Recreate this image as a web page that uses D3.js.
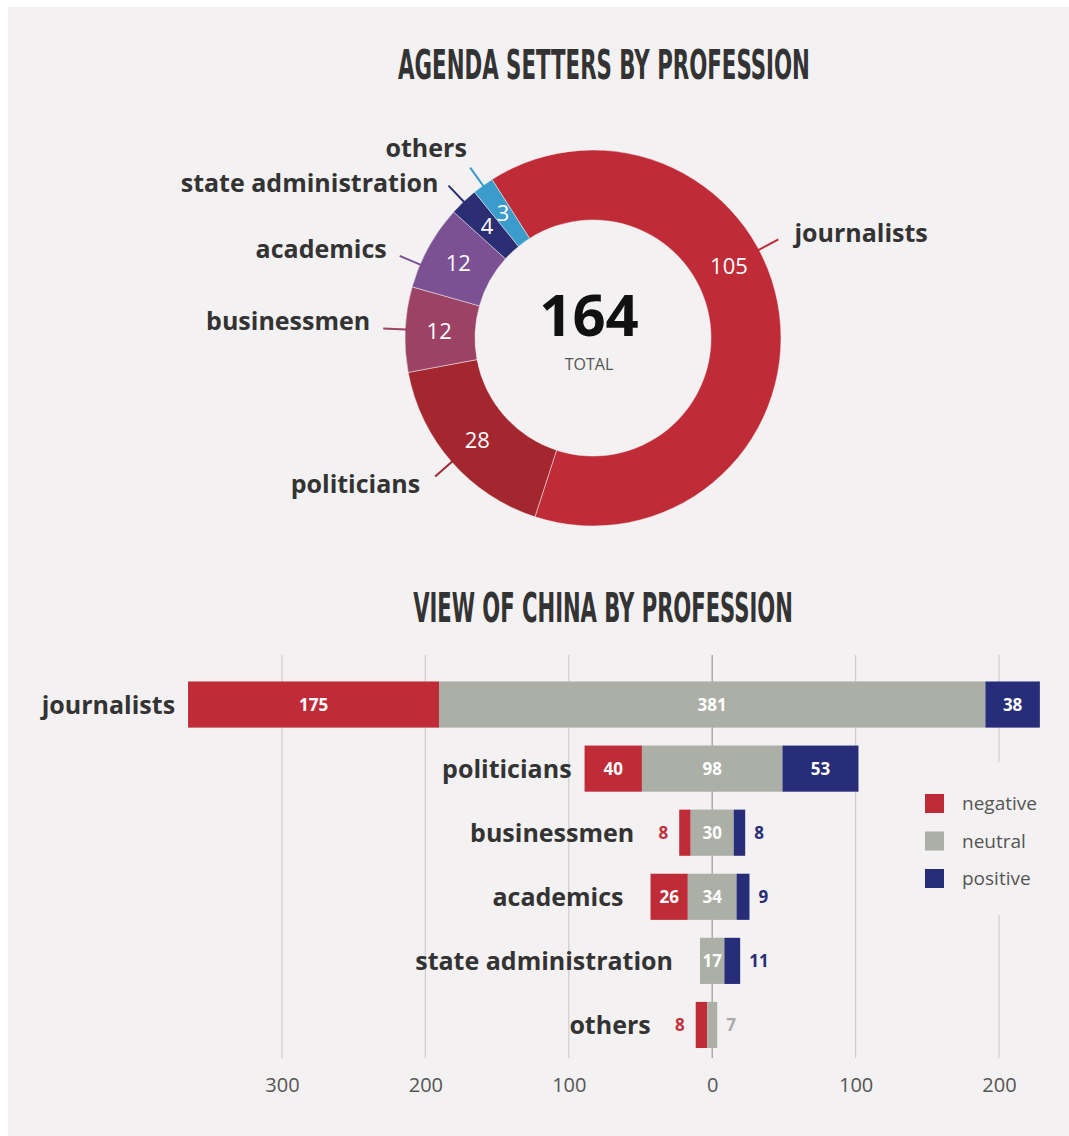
<!DOCTYPE html>
<html>
<head>
<meta charset="utf-8">
<script src="https://cdn.jsdelivr.net/npm/d3@7"></script>
<style>
  html, body { margin: 0; padding: 0; background: #ffffff; }
  svg { display: block; }
  text { font-family: "Open Sans", "Noto Sans", sans-serif; }
</style>
</head>
<body>
<svg id="chart" width="1069" height="1136"></svg>
<script>
// ---- data ----
const professions = ["journalists", "politicians", "businessmen", "academics", "state administration", "others"];
const agendaSetters = [105, 28, 12, 12, 4, 3];
const sliceColors = ["#c02b38", "#a4262f", "#9c4265", "#7c5194", "#2b2e73", "#3b9ccb"];

const sentiments = ["negative", "neutral", "positive"];
const negativeViews = [175, 40, 8, 26, 0, 8];
const neutralViews = [381, 98, 30, 34, 17, 7];
const positiveViews = [38, 53, 8, 9, 11, 0];
const sentimentColors = ["#c02b38", "#abafa6", "#272d78"];
const outsideLabelColors = ["#c0323d", "#a9aca6", "#272d78"];
const axisTicks = [-300, -200, -100, 0, 100, 200];

const BG = "#f3f1f1";
const INK = "#333333";

const svg = d3.select("#chart");
svg.append("rect").attr("x", 8).attr("y", 7).attr("width", 1061).attr("height", 1129).attr("fill", BG);

// ---- titles: condensed headline, squeezed horizontally to a set width ----
function title(text, cx, baseline, width) {
  const t = svg.append("text")
    .attr("x", 0).attr("y", 0)
    .attr("text-anchor", "middle")
    .style("font-family", "'Liberation Sans Narrow', 'DejaVu Sans Condensed', sans-serif")
    .style("font-weight", "bold").style("font-size", "40px")
    .attr("fill", INK).text(text);
  const natural = t.node().getComputedTextLength() || width;
  t.attr("transform", `translate(${cx},${baseline}) scale(${width / natural},1)`);
}
title("AGENDA SETTERS BY PROFESSION", 604, 79, 412);
title("VIEW OF CHINA BY PROFESSION", 603, 622, 380);

// ---- donut ----
const cx = 593, cy = 338, R = 188, r = 118;
const rad = deg => deg * Math.PI / 180;
const start = rad(-32.5);
const slices = professions.map((name, i) => ({ name, value: agendaSetters[i], color: sliceColors[i] }));
const total = d3.sum(agendaSetters);

const pie = d3.pie().sort(null).value(d => d.value).startAngle(start).endAngle(start + 2 * Math.PI);
const arcs = pie(slices);
const arc = d3.arc().innerRadius(r).outerRadius(R);

const donut = svg.append("g").attr("transform", `translate(${cx},${cy})`);
donut.selectAll("path.slice").data(arcs).join("path")
  .attr("class", "slice")
  .attr("d", arc)
  .attr("fill", d => d.data.color)
  .attr("stroke", "rgba(243,241,241,0.5)").attr("stroke-width", 1);

const polar = (a, rr) => [Math.sin(a) * rr, -Math.cos(a) * rr];
const mid = d => (d.startAngle + d.endAngle) / 2;
// the large slice carries its number and leader higher up
const valueAngle = d => d.index === 0 ? rad(62) : mid(d);

// leader and name placement around the ring
const callouts = {
  "journalists":          { angle: 62,  dx: 16,  dy: -6,  anchor: "start" },
  "politicians":          { angle: null, dx: -15, dy: 7,   anchor: "end" },
  "businessmen":          { angle: null, dx: -13, dy: -7,  anchor: "end" },
  "academics":            { angle: 293, dx: -13, dy: -7,  anchor: "end" },
  "state administration": { angle: null, dx: -10, dy: -3,  anchor: "end" },
  "others":               { angle: null, dx: -44, dy: -20, anchor: "middle" }
};
const leaderAngle = d => callouts[d.data.name].angle != null ? rad(callouts[d.data.name].angle) : mid(d);

donut.selectAll("text.val").data(arcs).join("text")
  .attr("class", "val")
  .attr("x", d => polar(valueAngle(d), 154)[0])
  .attr("y", d => polar(valueAngle(d), 154)[1])
  .attr("text-anchor", "middle").attr("dy", "0.36em")
  .attr("fill", "#ffffff").style("font-size", "22px")
  .text(d => d.value);

donut.selectAll("line.leader").data(arcs).join("line")
  .attr("class", "leader")
  .attr("x1", d => polar(leaderAngle(d), R - 1)[0])
  .attr("y1", d => polar(leaderAngle(d), R - 1)[1])
  .attr("x2", d => polar(leaderAngle(d), R + 22)[0])
  .attr("y2", d => polar(leaderAngle(d), R + 22)[1])
  .attr("stroke", d => d.data.color).attr("stroke-width", 2);

donut.selectAll("text.name").data(arcs).join("text")
  .attr("class", "name")
  .each(function (d) {
    const [ex, ey] = polar(leaderAngle(d), R + 22);
    const c = callouts[d.data.name];
    d3.select(this).attr("x", ex + c.dx).attr("y", ey + c.dy).attr("text-anchor", c.anchor);
  })
  .attr("dy", "0.36em")
  .attr("fill", INK).style("font-size", "25px").style("font-weight", "bold")
  .text(d => d.data.name);

donut.append("text").attr("x", -4).attr("y", -2).attr("text-anchor", "middle")
  .attr("fill", "#111").style("font-size", "58px").style("font-weight", "bold").text(total);
donut.append("text").attr("x", -4).attr("y", 32).attr("text-anchor", "middle")
  .attr("fill", "#555").style("font-size", "16px").text("TOTAL");

// ---- diverging bars ----
const x = d3.scaleLinear().domain([-300, 200]).range([282, 999]);
const y = d3.scaleBand().domain(professions).range([672.5, 1057]).paddingInner(0.28).paddingOuter(0.14);

const grid = svg.append("g");
grid.selectAll("line").data(axisTicks).join("line")
  .attr("x1", d => x(d)).attr("x2", d => x(d))
  .attr("y1", 655).attr("y2", 1058)
  .attr("stroke", d => d === 0 ? "#9a9a9a" : "#cfcdcd").attr("stroke-width", 1.2);

// legend panel sits over the grid
svg.append("rect").attr("x", 905).attr("y", 762).attr("width", 160).attr("height", 153).attr("fill", BG);

const axis = d3.axisBottom(x).tickValues(axisTicks).tickSize(0).tickFormat(d => Math.abs(d));
const axisG = svg.append("g").attr("transform", "translate(0,1075)").call(axis);
axisG.select(".domain").remove();
axisG.selectAll("text").attr("fill", "#555").style("font-size", "20px")
  .style("font-family", "'Open Sans', sans-serif");

const rows = professions.map((name, i) => {
  const neg = negativeViews[i], neu = neutralViews[i], pos = positiveViews[i];
  return {
    name,
    segs: [
      { k: 0, v: neg, x0: -neu / 2 - neg, x1: -neu / 2 },
      { k: 1, v: neu, x0: -neu / 2, x1: neu / 2 },
      { k: 2, v: pos, x0: neu / 2, x1: neu / 2 + pos }
    ].filter(s => s.v > 0),
    lo: -neu / 2 - neg, hi: neu / 2 + pos
  };
});

const MIN_INSIDE = 20;
const bars = svg.append("g");
rows.forEach(row => {
  const g = bars.append("g");
  const yc = y(row.name) + y.bandwidth() / 2;
  g.selectAll("rect").data(row.segs).join("rect")
    .attr("x", s => x(s.x0)).attr("width", s => x(s.x1) - x(s.x0))
    .attr("y", y(row.name)).attr("height", y.bandwidth())
    .attr("fill", s => sentimentColors[s.k]);

  // long bars keep their name close; short bars leave a wider gap
  let leftEdge = x(row.lo);
  let gap = row.lo <= -80 ? 13 : 27;
  row.segs.forEach(s => {
    const w = x(s.x1) - x(s.x0);
    const t = g.append("text").attr("y", yc).attr("dy", "0.36em")
      .style("font-size", "17px").style("font-weight", "bold").text(s.v);
    if (w >= MIN_INSIDE) {
      t.attr("x", (x(s.x0) + x(s.x1)) / 2).attr("text-anchor", "middle").attr("fill", "#ffffff");
    } else if (s.k === 0) {
      t.attr("x", x(row.lo) - 11).attr("text-anchor", "end").attr("fill", outsideLabelColors[s.k]);
      leftEdge = x(row.lo) - 11 - 11;
      gap = 23;
    } else {
      t.attr("x", x(row.hi) + 9).attr("text-anchor", "start").attr("fill", outsideLabelColors[s.k]);
    }
  });

  g.append("text").attr("x", leftEdge - gap).attr("y", yc).attr("dy", "0.36em")
    .attr("text-anchor", "end").attr("fill", INK)
    .style("font-size", "25px").style("font-weight", "bold").text(row.name);
});

// legend
const legend = svg.append("g");
sentiments.forEach((s, i) => {
  const ly = 794 + i * 37.5;
  legend.append("rect").attr("x", 925).attr("y", ly).attr("width", 19).attr("height", 19).attr("fill", sentimentColors[i]);
  legend.append("text").attr("x", 962).attr("y", ly + 9.5).attr("dy", "0.36em")
    .attr("fill", "#555").style("font-size", "19px").text(s);
});
</script>
</body>
</html>
